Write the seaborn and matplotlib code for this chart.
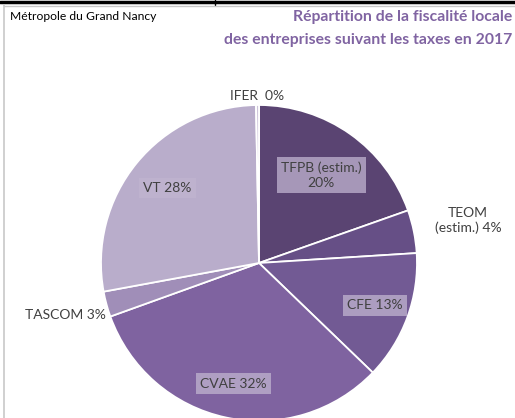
import numpy as np
import matplotlib
matplotlib.use("Agg")
import matplotlib.pyplot as plt
import seaborn as sns
from matplotlib.lines import Line2D

# data (clockwise from 12 o'clock)
taxes = ["TFPB (estim.)", "TEOM (estim.)", "CFE", "CVAE", "TASCOM", "VT", "IFER"]
shares = [19.6, 4.4, 13.2, 32.3, 2.6, 27.6, 0.3]
shown = ["20%", "4%", "13%", "32%", "3%", "28%", "0%"]
label_text = ["TFPB (estim.)\n20%", "TEOM\n(estim.) 4%", "CFE 13%", "CVAE 32%",
              "TASCOM 3%", "VT 28%", "IFER  0%"]
colors = ["#5a4472", "#664f86", "#725a94", "#7f63a0", "#a08eb8", "#b9adcb", "#cdc4da"]

# style: how far from centre each label sits, and if it gets a box
label_r = [0.68, 1.35, 0.78, 0.78, 1.27, 0.75, 1.06]
boxed = [True, False, True, True, False, True, False]

sns.set_theme(style="white")
plt.rcParams['font.family'] = ['Lato', 'DejaVu Sans']

fig = plt.figure(figsize=(5.15, 4.18), dpi=100)
ax = fig.add_axes([101 / 515, -3 / 418, 316 / 515, 316 / 418])

wedges, _ = ax.pie(shares, colors=colors, startangle=90, counterclock=False,
                   wedgeprops=dict(edgecolor="white", linewidth=1.3))
for w in wedges:
    w.set_clip_on(False)
ax.set_xlim(-1, 1)
ax.set_ylim(-1, 1)
ax.set_aspect("equal")
ax.axis("off")

for w, txt, r, b in zip(wedges, label_text, label_r, boxed):
    mid = np.deg2rad((w.theta1 + w.theta2) / 2)
    x, y = r * np.cos(mid), r * np.sin(mid)
    kw = {}
    if b:
        kw["bbox"] = dict(boxstyle="square,pad=0.3", facecolor="#c0b4d0",
                          edgecolor="none", alpha=0.75)
    ax.text(x, y, txt, ha="center", va="center", fontsize=10,
            color="#404040", linespacing=1.3, clip_on=False, **kw)

fig.text(10 / 515, 1 - 17 / 418, "Métropole du Grand Nancy", fontsize=8.7,
         color="black", ha="left", va="center")
fig.text(512 / 515, 1 - 17 / 418, "Répartition de la fiscalité locale",
         fontsize=11.3, fontweight="bold", color="#8064a2", ha="right", va="center")
fig.text(512 / 515, 1 - 40 / 418, "des entreprises suivant les taxes en 2017",
         fontsize=11.3, fontweight="bold", color="#8064a2", ha="right", va="center")

# bits of the spreadsheet frame around the chart
fig.add_artist(Line2D([0, 1], [1 - 1.5 / 418, 1 - 1.5 / 418], color="black", lw=2.5))
fig.add_artist(Line2D([215 / 515, 215 / 515], [1, 1 - 5 / 418], color="black", lw=1))
fig.add_artist(Line2D([4 / 515, 1], [1 - 5.5 / 418, 1 - 5.5 / 418], color="#c8c8c8", lw=1))
fig.add_artist(Line2D([4 / 515, 4 / 515], [0, 1 - 5 / 418], color="#c8c8c8", lw=1.2))

fig.savefig("out.png", dpi=100)
